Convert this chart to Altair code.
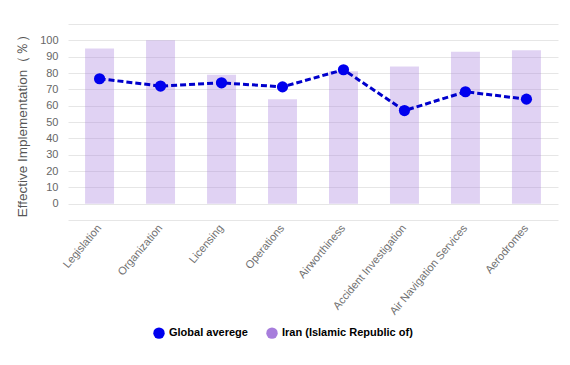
import altair as alt
import pandas as pd

categories = ["Legislation", "Organization", "Licensing", "Operations", "Airworthiness",
              "Accident Investigation", "Air Navigation Services", "Aerodromes"]
iran_values = [95, 100, 79, 64, 81, 84, 93, 94]
global_values = [76.5, 72, 74, 71.5, 82, 57, 68.5, 64]
series_names = ["Global averege", "Iran (Islamic Republic of)"]
y_ticks = [-10, 0, 10, 20, 30, 40, 50, 60, 70, 80, 90, 100, 110]

bars_df = pd.DataFrame({"category": categories, "value": iran_values, "series": series_names[1]})
line_df = pd.DataFrame({"category": categories, "value": global_values, "series": series_names[0]})

color_scale = alt.Scale(domain=series_names, range=["#0000ee", "#a77ddc"])
x_enc = alt.X("category:N", sort=categories, title=None,
              scale=alt.Scale(paddingInner=0.525, paddingOuter=0.28),
              axis=alt.Axis(labelAngle=-50, labelAlign="right", labelBaseline="middle",
                            labelFontSize=11, labelColor="#707070",
                            labelFont="Liberation Sans", labelPadding=6, ticks=False,
                            domain=False, grid=False, labelLimit=200))
y_enc = alt.Y("value:Q", title="Effective Implementation（％）",
              scale=alt.Scale(domain=[-10, 110], nice=False, zero=False),
              axis=alt.Axis(values=y_ticks,
                            labelExpr="datum.value < 0 || datum.value > 100 ? '' : datum.label",
                            labelFontSize=11, labelColor="#666666", labelFont="Liberation Sans",
                            labelPadding=10, ticks=False, domain=False, gridColor="#e6e6e6",
                            titleFontSize=13.5, titleFontWeight="normal", titleColor="#555555",
                            titleFont="Liberation Sans", titlePadding=10))

legend = alt.Legend(title=None, orient="none", legendX=85, legendY=303, direction="horizontal",
                    symbolType="circle", symbolSize=130, symbolOpacity=1,
                    labelFont="Liberation Sans", labelFontSize=11, labelFontWeight="bold",
                    labelColor="#000000", columnPadding=18, symbolStrokeWidth=0)

bars = alt.Chart(bars_df).mark_bar(opacity=0.35).encode(
    x=x_enc, y=y_enc,
    color=alt.Color("series:N", scale=color_scale, legend=legend),
)
line = alt.Chart(line_df).mark_line(color="#0000cc", strokeWidth=3, strokeDash=[6, 3]).encode(
    x=x_enc, y=y_enc,
)
points = alt.Chart(line_df).mark_point(filled=True, size=125, opacity=1).encode(
    x=x_enc, y=y_enc,
    color=alt.Color("series:N", scale=color_scale, legend=legend),
)

chart = alt.layer(bars, line, points).properties(
    width=490, height=196,
    autosize=alt.AutoSizeParams(type="none"),
    padding={"left": 60, "top": 16, "right": 4, "bottom": 137},
).configure_view(stroke=None)

chart.save("out.html", embed_options={"renderer": "svg", "actions": False})
